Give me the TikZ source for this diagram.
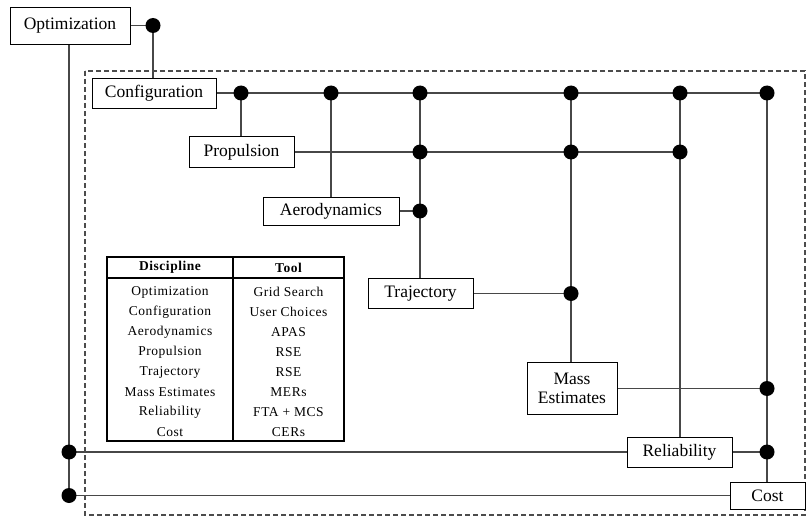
\documentclass[tikz,border=0pt]{standalone}
\usepackage{fontspec}
\setmainfont{Liberation Serif}
\newfontfamily\tablefont[LetterSpace=4]{Liberation Serif}
\usetikzlibrary{backgrounds}
\begin{document}
\begin{tikzpicture}[x=1pt,y=-1pt,
  box/.style={draw=black, line width=0.9pt, fill=white, inner sep=0pt,
    align=center, font=\fontsize{17.5}{18.5}\selectfont},
  wire/.style={draw=black!72, line width=1.3pt},
  dot/.style={circle, fill=black, inner sep=0pt, minimum size=15pt},
  cell/.style={inner sep=0pt, font=\tablefont\fontsize{13.5}{15}\selectfont},
  head/.style={inner sep=0pt, font=\tablefont\fontsize{13.5}{15}\selectfont\bfseries}]
\useasboundingbox (0,0) rectangle (809,519);

% frame around the vehicle design disciplines
\draw[black!70, line width=1.3pt, dash pattern=on 5pt off 3pt] (85,71) rectangle (805,515);

% discipline boxes
\node[box, minimum width=120pt, minimum height=37pt] (opt)    at (70,25.5)   {Optimization};
\node[box, minimum width=124pt, minimum height=30pt] (config) at (154,93)    {Configuration};
\node[box, minimum width=105pt, minimum height=31pt] (prop)   at (241.5,152) {Propulsion};
\node[box, minimum width=136pt, minimum height=28pt] (aero)   at (331,211)   {Aerodynamics};
\node[box, minimum width=105pt, minimum height=30pt] (traj)   at (420.5,293.5) {Trajectory};
\node[box, minimum width=90pt,  minimum height=52pt] (mass)   at (572,388.5) {Mass\\Estimates};
\node[box, minimum width=105pt, minimum height=30pt] (rel)    at (679.5,452) {Reliability};
\node[box, minimum width=75pt,  minimum height=27pt] (cost)   at (767.5,495.5) {Cost};

% junction dots
\node[dot] (d0) at (153,25.5) {};
\node[dot] (c1) at (241,93) {};
\node[dot] (c2) at (331,93) {};
\node[dot] (c3) at (420,93) {};
\node[dot] (c4) at (571,93) {};
\node[dot] (c5) at (680,93) {};
\node[dot] (c6) at (767,93) {};
\node[dot] (p3) at (420,152) {};
\node[dot] (p4) at (571,152) {};
\node[dot] (p5) at (680,152) {};
\node[dot] (a3) at (420,211) {};
\node[dot] (t4) at (571,293.5) {};
\node[dot] (m6) at (767,388.5) {};
\node[dot] (r6) at (767,452) {};
\node[dot] (l1) at (69,452) {};
\node[dot] (l2) at (69,495.5) {};

% data flow lines
\begin{scope}[on background layer]
  \draw[wire] (opt.east) -- (d0.center) -- (d0 |- config.north);
  \draw[wire] (l1 |- opt.south) -- (l2.center);
  \draw[wire] (config.east) -- (c6.center);
  \draw[wire] (c1.center) -- (c1 |- prop.north);
  \draw[wire] (c2.center) -- (c2 |- aero.north);
  \draw[wire] (c3.center) -- (c3 |- traj.north);
  \draw[wire] (c4.center) -- (c4 |- mass.north);
  \draw[wire] (c5.center) -- (c5 |- rel.north);
  \draw[wire] (c6.center) -- (c6 |- cost.north);
  \draw[wire] (prop.east) -- (p5.center);
  \draw[wire] (aero.east) -- (a3.center);
  \draw[wire] (traj.east) -- (t4.center);
  \draw[wire] (mass.east) -- (m6.center);
  \draw[wire] (rel.east) -- (r6.center);
  \draw[wire] (rel.west) -- (l1.center);
  \draw[wire] (cost.west) -- (l2.center);
\end{scope}

% discipline / tool table
\draw[line width=2pt] (107,257) rectangle (344,441);
\draw[line width=2pt] (107,277.5) -- (344,277.5);
\draw[line width=2pt] (233,257) -- (233,441);
\node[head] (hdis) at (170,267.5) {Discipline};
\node[head] (htool) at (288.5,267.5) {Tool};
\foreach \d/\t [count=\i from 0] in {Optimization/Grid Search, Configuration/User Choices,
    Aerodynamics/APAS, Propulsion/RSE, Trajectory/RSE, Mass Estimates/MERs,
    Reliability/FTA + MCS, Cost/CERs}
{
  \node[cell] (dis\i) at (170,292+20*\i) {\d};
  \node[cell] (tool\i) at (288.5,292+20*\i) {\t};
}
\end{tikzpicture}
\end{document}
